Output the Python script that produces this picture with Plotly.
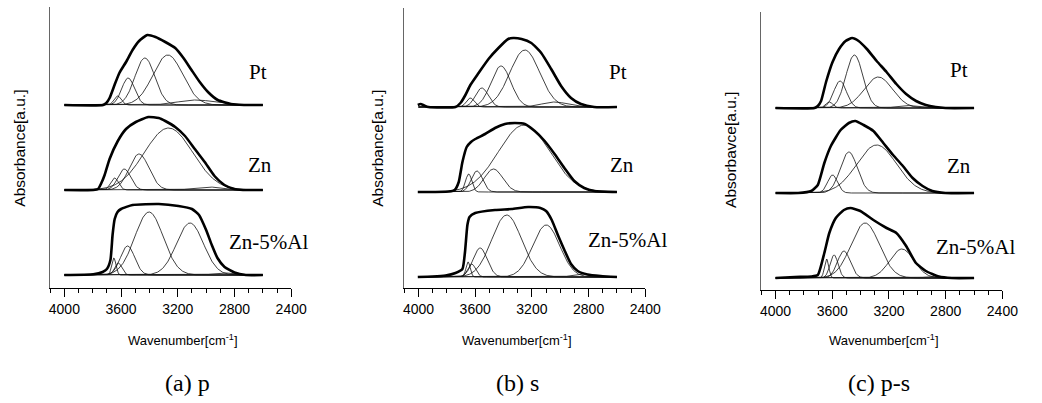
import numpy as np
import plotly.graph_objects as go

# ---------------------------------------------------------------- data
SAMPLES = ["Pt", "Zn", "Zn-5%Al"]
PANEL_CAPTIONS = ["(a) p", "(b) s", "(c) p-s"]
Y_TITLES = ["Absorbance[a.u.]", "Absorbance[a.u.]", "Absorbavce[a.u.]"]
X_TICKS = [4000, 3600, 3200, 2800, 2400]
X_TITLE = "Wavenumber[cm<sup>-1</sup>]"

# measured spectra (thick lines): wavenumber [cm-1] and absorbance [a.u.]
a_pt_wn = [4000, 3727, 3704, 3681, 3646, 3612, 3565, 3519, 3473, 3415, 3357, 3288, 3218, 3160, 3103, 3045, 2987, 2918, 2825, 2733, 2600]
a_pt_ab = [0, 0, 2, 7, 20, 32, 43, 55, 64, 70, 68, 63, 57, 47, 35, 23, 13, 5, 1, 0, 0]
a_zn_wn = [4000, 3796, 3762, 3739, 3716, 3681, 3623, 3565, 3496, 3408, 3334, 3288, 3218, 3149, 3080, 3010, 2941, 2871, 2802, 2740, 2600]
a_zn_ab = [0, 0, 1, 7, 15, 31, 49, 61, 68, 73, 72, 69, 63, 54, 41, 28, 14, 5, 1, 0, 0]
a_al_wn = [4000, 3796, 3730, 3700, 3675, 3660, 3645, 3625, 3600, 3519, 3334, 3195, 3100, 3050, 3000, 2960, 2920, 2870, 2800, 2720, 2600]
a_al_ab = [0, 0.7, 3, 6, 15, 40, 56, 63, 66, 70, 71, 69, 66, 60, 45, 30, 17, 8, 2.5, 0, 0]

b_pt_wn = [4005, 3985, 3960, 3930, 3739, 3704, 3669, 3634, 3576, 3506, 3436, 3367, 3332, 3273, 3204, 3134, 3064, 2994, 2924, 2854, 2761, 2600]
b_pt_ab = [2, 3, 1.5, 0, 0, 4, 12, 22, 34, 48, 59, 68, 69, 68, 64, 54, 38, 21, 9, 3, 0, 0]
b_zn_wn = [4005, 3786, 3745, 3716, 3690, 3660, 3630, 3599, 3530, 3460, 3390, 3320, 3250, 3180, 3110, 3040, 2971, 2901, 2831, 2760, 2600]
b_zn_ab = [0, 0.5, 2, 10, 30, 45, 50, 53, 58, 64, 68, 69, 68, 61, 51, 38, 24, 11, 4, 1, 0]
b_al_wn = [4005, 3902, 3809, 3739, 3690, 3672, 3655, 3640, 3600, 3460, 3343, 3227, 3140, 3100, 3060, 3017, 2971, 2924, 2877, 2808, 2715, 2600]
b_al_ab = [0, 0.5, 1.5, 4, 8, 25, 52, 60, 64, 67, 68, 70, 69, 66, 57, 42, 27, 13, 6, 2.5, 1, 0]

c_pt_wn = [4000, 3725, 3702, 3679, 3644, 3598, 3552, 3506, 3460, 3414, 3356, 3287, 3217, 3148, 3079, 3009, 2940, 2871, 2802, 2600]
c_pt_ab = [0, 0, 2, 7, 26, 46, 59, 67, 70, 67, 59, 47, 36, 24, 14, 7, 3, 1, 0, 0]
c_zn_wn = [4000, 3841, 3748, 3702, 3656, 3610, 3541, 3483, 3437, 3379, 3310, 3240, 3171, 3102, 3033, 2963, 2894, 2802, 2600]
c_zn_ab = [0, 0, 2, 8, 30, 47, 63, 70, 72, 68, 62, 50, 38, 27, 15, 7, 2, 0, 0]
c_al_wn = [4000, 3864, 3748, 3702, 3656, 3621, 3575, 3518, 3472, 3402, 3310, 3217, 3148, 3079, 3010, 2940, 2848, 2756, 2600]
c_al_ab = [0, 1, 1.5, 3, 25, 45, 60, 68, 70, 67, 58, 50, 45, 32, 15, 7, 1.5, 0, 0]

# fitted Gaussian bands (thin lines): centre [cm-1], height [a.u.], sigma [cm-1]
a_pt_centre = [3624, 3550, 3432, 3270, 3071]
a_pt_height = [9, 27, 47, 50, 5]
a_pt_sigma = [25, 45, 70, 105, 130]
a_zn_centre = [3646, 3577, 3473, 3265, 2987]
a_zn_height = [12, 21, 36, 62, 3]
a_zn_sigma = [28, 45, 70, 170, 100]
a_al_centre = [3651, 3620, 3554, 3403, 3114, 2871]
a_al_height = [17, 12, 29, 63, 52, 2]
a_al_sigma = [15, 25, 50, 100, 95, 80]

b_pt_centre = [3634, 3553, 3418, 3250, 3040]
b_pt_height = [9, 19, 41, 57, 5]
b_pt_sigma = [28, 45, 70, 105, 90]
b_zn_centre = [3646, 3588, 3471, 3255]
b_zn_height = [18, 21, 23, 67]
b_zn_sigma = [22, 40, 65, 180]
b_al_centre = [3650, 3625, 3565, 3378, 3099, 2854]
b_al_height = [15, 13, 29, 62, 52, 3]
b_al_sigma = [15, 28, 50, 105, 95, 60]

c_pt_centre = [3621, 3545, 3444, 3275, 3079]
c_pt_height = [6, 27, 53, 31, 2.5]
c_pt_sigma = [25, 45, 60, 100, 70]
c_zn_centre = [3598, 3483, 3287]
c_zn_height = [18, 41, 48]
c_zn_sigma = [35, 60, 140]
c_al_centre = [3640, 3587, 3518, 3368, 3109, 2900]
c_al_height = [19, 23, 27, 55, 29, 1.5]
c_al_sigma = [15, 28, 45, 100, 85, 50]

SPECTRA = [
    [(a_pt_wn, a_pt_ab, a_pt_centre, a_pt_height, a_pt_sigma),
     (a_zn_wn, a_zn_ab, a_zn_centre, a_zn_height, a_zn_sigma),
     (a_al_wn, a_al_ab, a_al_centre, a_al_height, a_al_sigma)],
    [(b_pt_wn, b_pt_ab, b_pt_centre, b_pt_height, b_pt_sigma),
     (b_zn_wn, b_zn_ab, b_zn_centre, b_zn_height, b_zn_sigma),
     (b_al_wn, b_al_ab, b_al_centre, b_al_height, b_al_sigma)],
    [(c_pt_wn, c_pt_ab, c_pt_centre, c_pt_height, c_pt_sigma),
     (c_zn_wn, c_zn_ab, c_zn_centre, c_zn_height, c_zn_sigma),
     (c_al_wn, c_al_ab, c_al_centre, c_al_height, c_al_sigma)],
]

# ---------------------------------------------------------------- layout
W, H = 1042, 403
STACK_STEP = 85          # vertical offset between stacked spectra [a.u.]
# per panel: left/right edge of plot, bottom/top of axes, y range
PANELS = [
    dict(x0=50, x1=295, yb=288, yt=7, yr=[-13, 268]),
    dict(x0=410, x1=655, yb=288, yt=8, yr=[-11, 269]),
    dict(x0=773, x1=1018, yb=290, yt=12, yr=[-12, 266]),
]
LABEL_POS = [  # left x, centre y (pixels) of the sample labels
    [(250, 72), (249, 165), (230, 242)],
    [(616, 72), (617, 165), (595, 240)],
    [(963, 70), (960, 166), (948, 247)],
]
CAPTION_X = [190, 525, 893]
XTITLE_X = [185, 525, 898]
YTITLE_X = [18, 382, 742]
YTITLE_Y = [148, 148, 150]

TICK_FONT = "Liberation Sans Narrow, Liberation Sans, Arial, sans-serif"
SANS = "Liberation Sans, Arial, sans-serif"
SERIF = "Liberation Serif, Times New Roman, serif"

grid = np.arange(4000, 2599, -4.0)

fig = go.Figure()
ann = []
for p, panel in enumerate(PANELS):
    sfx = "" if p == 0 else str(p + 1)
    xa, ya = "x" + sfx, "y" + sfx
    for s, (wn, ab, cen, hgt, sig) in enumerate(SPECTRA[p]):
        off = (2 - s) * STACK_STEP
        for c, h, w in zip(cen, hgt, sig):
            band = h * np.exp(-((grid - c) ** 2) / (2.0 * w ** 2))
            fig.add_trace(go.Scatter(
                x=grid, y=band + off, mode="lines", xaxis=xa, yaxis=ya,
                line=dict(color="#111", width=0.8), hoverinfo="skip",
                showlegend=False))
        fig.add_trace(go.Scatter(
            x=wn, y=np.asarray(ab, dtype=float) + off, mode="lines",
            xaxis=xa, yaxis=ya,
            line=dict(color="#000", width=2.6, shape="spline", smoothing=0.5),
            showlegend=False))
        lx, ly = LABEL_POS[p][s]
        ann.append(dict(text=SAMPLES[s], x=lx / W, y=1 - ly / H, xref="paper",
                        yref="paper", xanchor="left", yanchor="middle",
                        showarrow=False, font=dict(family=SERIF, size=21, color="#000")))

    fig.update_layout(**{
        "xaxis" + sfx: dict(
            domain=[panel["x0"] / W, panel["x1"] / W], range=[4100, 2400],
            anchor=ya, showline=True, linecolor="#000", linewidth=1,
            ticks="outside", ticklen=8, tickwidth=1, tickcolor="#000",
            tickvals=X_TICKS, ticktext=[str(v) for v in X_TICKS],
            minor=dict(dtick=100, tick0=4000, ticks="outside", ticklen=4,
                       tickwidth=1, tickcolor="#000", showgrid=False),
            showgrid=False, zeroline=False,
            tickfont=dict(family=TICK_FONT, size=14, color="#000")),
        "yaxis" + sfx: dict(
            domain=[1 - panel["yb"] / H, 1 - panel["yt"] / H], range=panel["yr"],
            anchor=xa, showline=True, linecolor="#666", linewidth=1,
            showticklabels=False, ticks="", showgrid=False, zeroline=False),
    })

    ann.append(dict(text=X_TITLE, x=XTITLE_X[p] / W, y=1 - 340 / H, xref="paper",
                    yref="paper", xanchor="center", yanchor="middle", showarrow=False,
                    font=dict(family=TICK_FONT, size=13, color="#000")))
    ann.append(dict(text=Y_TITLES[p], x=YTITLE_X[p] / W, y=1 - YTITLE_Y[p] / H,
                    xref="paper", yref="paper", xanchor="center", yanchor="middle",
                    textangle=-90, showarrow=False,
                    font=dict(family=SANS, size=15.5, color="#000")))
    ann.append(dict(text=PANEL_CAPTIONS[p], x=CAPTION_X[p] / W, y=1 - 383 / H,
                    xref="paper", yref="paper", xanchor="center", yanchor="middle",
                    showarrow=False, font=dict(family=SERIF, size=24, color="#000")))

fig.update_layout(width=W, height=H, margin=dict(l=0, r=0, t=0, b=0),
                  paper_bgcolor="white", plot_bgcolor="white",
                  annotations=ann, showlegend=False)
fig.write_html("out.html", config={"displayModeBar": False})
